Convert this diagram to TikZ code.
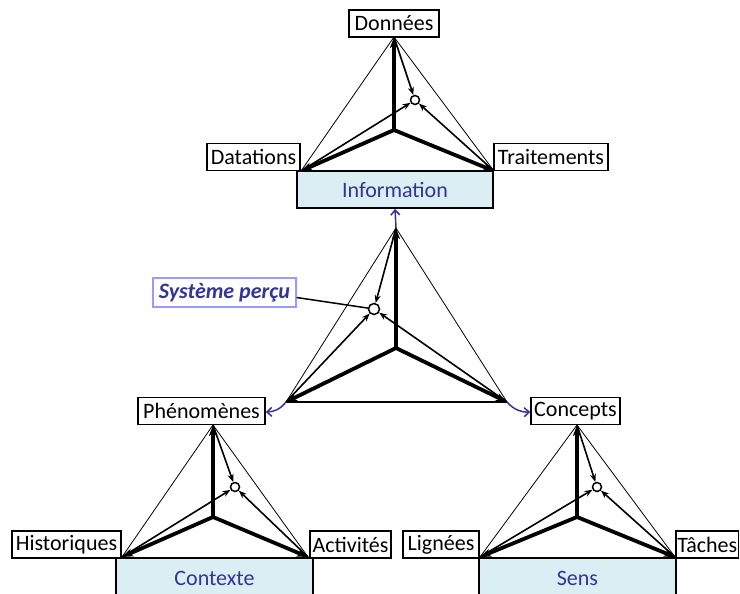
\documentclass[tikz,border=0pt]{standalone}
\usepackage{fontspec}
\setmainfont{Carlito}
\usetikzlibrary{arrows.meta}
\definecolor{infofill}{HTML}{DAEEF3}
\definecolor{infotext}{HTML}{333399}
\definecolor{percu}{HTML}{9999FF}
\newcommand{\drawtetra}[5]{%
  \draw[thinl] (#2) -- (#1) -- (#3);
  \draw[thickl] (#4) -- (#1);
  \draw[thickl] (#4) -- (#2);
  \draw[thickl] (#4) -- (#3);
  \draw[medl] (#1) -- (#5);
  \draw[medl] (#2) -- (#5);
  \draw[medl] (#3) -- (#5);
}
\begin{document}
\begin{tikzpicture}[x=1pt,y=-1pt,
  font=\fontsize{22}{26}\selectfont,
  lbl/.style={draw, line width=1.5pt, inner sep=0pt, minimum height=27pt, fill=white},
  basebox/.style={draw, line width=1.8pt, fill=infofill, text=infotext, inner sep=0pt},
  thinl/.style={line width=0.8pt},
  thickl/.style={line width=3.8pt, -{Stealth[length=11pt,width=8pt,inset=3pt]}},
  medl/.style={line width=1.6pt, -{Stealth[length=8pt,width=6pt,inset=2.5pt]}},
  circ/.style={circle, draw, line width=1.5pt, fill=white, inner sep=0pt},
  bluearr/.style={draw=infotext, line width=1.5pt, -{Straight Barb[length=5pt,width=9pt]}}
]
\useasboundingbox (0,0) rectangle (740,594);
\clip (0,0) rectangle (740,594);

% ---------- boxes ----------
\node[lbl, minimum width=90pt] (don) at (394,23.5) {Données};
\node[lbl, minimum width=93pt] (dat) at (253.5,157) {Datations};
\node[lbl, minimum width=114pt] (tra) at (551,157) {Traitements};
\node[basebox, minimum width=196pt, minimum height=37pt] (inf) at (395,189.5) {Information};

\node[lbl, minimum width=127pt] (phe) at (201.5,411) {Phénomènes};
\node[lbl, minimum width=89pt] (con) at (575.5,411) {Concepts};

\node[lbl, minimum width=109pt] (his) at (66.5,544.5) {Historiques};
\node[lbl, minimum width=81pt] (act) at (350.5,544.5) {Activités};
\node[basebox, minimum width=197pt, minimum height=40pt] (ctx) at (214.5,578) {Contexte};

\node[lbl, minimum width=76pt] (lig) at (441,544.5) {Lignées};
\node[lbl, inner xsep=1.5pt, anchor=west] (tac) at (675,544.5) {Tâches};
\node[basebox, minimum width=197pt, minimum height=40pt] (sen) at (577.5,578) {Sens};

\node[draw=percu, line width=1.2pt, text=infotext, inner sep=2pt,
      minimum width=143pt, minimum height=29pt,
      font=\fontsize{22}{26}\selectfont\bfseries\itshape] (sys) at (224.5,292.5) {Système perçu};

% ---------- vertices ----------
\coordinate (a1) at (394,37);  \coordinate (l1) at (301,171); \coordinate (r1) at (494,171);
\coordinate (c1) at (394,130);
\node[circ, minimum size=9pt] (o1) at (415,100) {};

\coordinate (a2) at (396,228); \coordinate (l2) at (286,402); \coordinate (r2) at (507,402);
\coordinate (c2) at (396,348);
\node[circ, minimum size=11pt] (o2) at (374,309) {};

\coordinate (a3) at (213,425); \coordinate (l3) at (122,557); \coordinate (r3) at (308,557);
\coordinate (c3) at (213,517);
\node[circ, minimum size=9pt] (o3) at (235,487) {};

\coordinate (a4) at (577,425); \coordinate (l4) at (480,557); \coordinate (r4) at (675,557);
\coordinate (c4) at (577,517);
\node[circ, minimum size=9pt] (o4) at (597,487) {};

% ---------- tetrahedra ----------
\draw[line width=1.6pt] (l2) -- (r2);
\drawtetra{a1}{l1}{r1}{c1}{o1}
\drawtetra{a2}{l2}{r2}{c2}{o2}
\drawtetra{a3}{l3}{r3}{c3}{o3}
\drawtetra{a4}{l4}{r4}{c4}{o4}

% ---------- label connector ----------
\draw[line width=1.5pt] ([yshift=-5pt]sys.east) -- (o2);

% ---------- blue links ----------
\draw[bluearr] (a2) -- (inf.south);
\draw[bluearr] (l2) to[bend left=25] ([yshift=-1pt]phe.east);
\draw[bluearr] (r2) to[bend right=25] ([yshift=-1pt]con.west);
\end{tikzpicture}
\end{document}
